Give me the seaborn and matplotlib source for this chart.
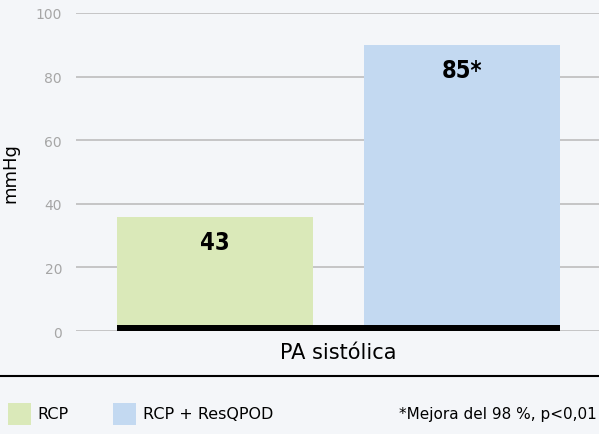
import matplotlib
matplotlib.use("Agg")
import matplotlib.pyplot as plt
from matplotlib.patches import Rectangle
import seaborn as sns
import pandas as pd

# datos
categoria = ["PA sistólica", "PA sistólica"]
grupos = ["RCP", "RCP + ResQPOD"]
alturas = [36, 90]          # altura dibujada de las barras
etiquetas = ["43", "85*"]   # texto sobre cada barra
colores = ["#dae9b9", "#c3d9f1"]
nota = "*Mejora del 98 %, p<0,01"

df = pd.DataFrame({"cat": categoria, "grupo": grupos, "valor": alturas})

sns.set_style("white")
plt.rcParams["font.family"] = ["DejaVu Sans"]
plt.rcParams["text.color"] = "black"
fondo = "#f4f6f9"

fig = plt.figure(figsize=(5.99, 4.35), dpi=100, facecolor=fondo)
ax = fig.add_axes([76 / 599, 1 - 332 / 435, 523 / 599, 318 / 435])
ax.set_facecolor(fondo)

sns.barplot(data=df, x="cat", y="valor", hue="grupo", palette=colores,
            saturation=1, linewidth=0, edgecolor="none",
            width=0.8, gap=0.206, legend=False, ax=ax, zorder=2)

ax.set_ylim(0, 100)
ax.set_xlim(-0.425, 0.422)
ax.set_yticks(range(0, 101, 20))
ax.yaxis.grid(True, color="#b8b8b8", linewidth=1.1, zorder=0)
ax.set_axisbelow(True)
for s in ax.spines.values():
    s.set_visible(False)
ax.tick_params(axis="y", length=0, pad=10, labelsize=10, labelcolor="#a6a6a6")
ax.tick_params(axis="x", length=0, pad=8, labelsize=15, labelcolor="black")
ax.set_xlabel("")
ax.set_ylabel("mmHg", fontsize=13, labelpad=12, color="black")

# franja negra en la base y etiquetas de valor
barras = ax.patches
x0 = min(b.get_x() for b in barras)
x1 = max(b.get_x() + b.get_width() for b in barras)
ax.fill_between([x0, x1], 0, 2, color="black", zorder=3, linewidth=0)

for b, txt in zip(barras, etiquetas):
    ax.text(b.get_x() + b.get_width() / 2, b.get_height() - 8, txt,
            ha="center", va="center", fontsize=17, fontweight="bold",
            fontstretch="condensed", color="black",
            family=["DejaVu Sans"], zorder=4)

# línea separadora y leyenda
fig.add_artist(plt.Line2D([0, 1], [1 - 377 / 435] * 2, color="black", linewidth=1.5))
y_ley = 1 - 426 / 435
alto = 22 / 435
for xp, xt, g, c in zip([8, 113], [37, 143], grupos, colores):
    fig.add_artist(Rectangle((xp / 599, y_ley), 23 / 599, alto, color=c, linewidth=0))
    fig.text(xt / 599, y_ley + alto / 2, g, va="center", ha="left", fontsize=11.5)
fig.text(597 / 599, y_ley + alto / 2, nota, va="center", ha="right", fontsize=11)

fig.savefig("out.png", dpi=100, facecolor=fondo)
